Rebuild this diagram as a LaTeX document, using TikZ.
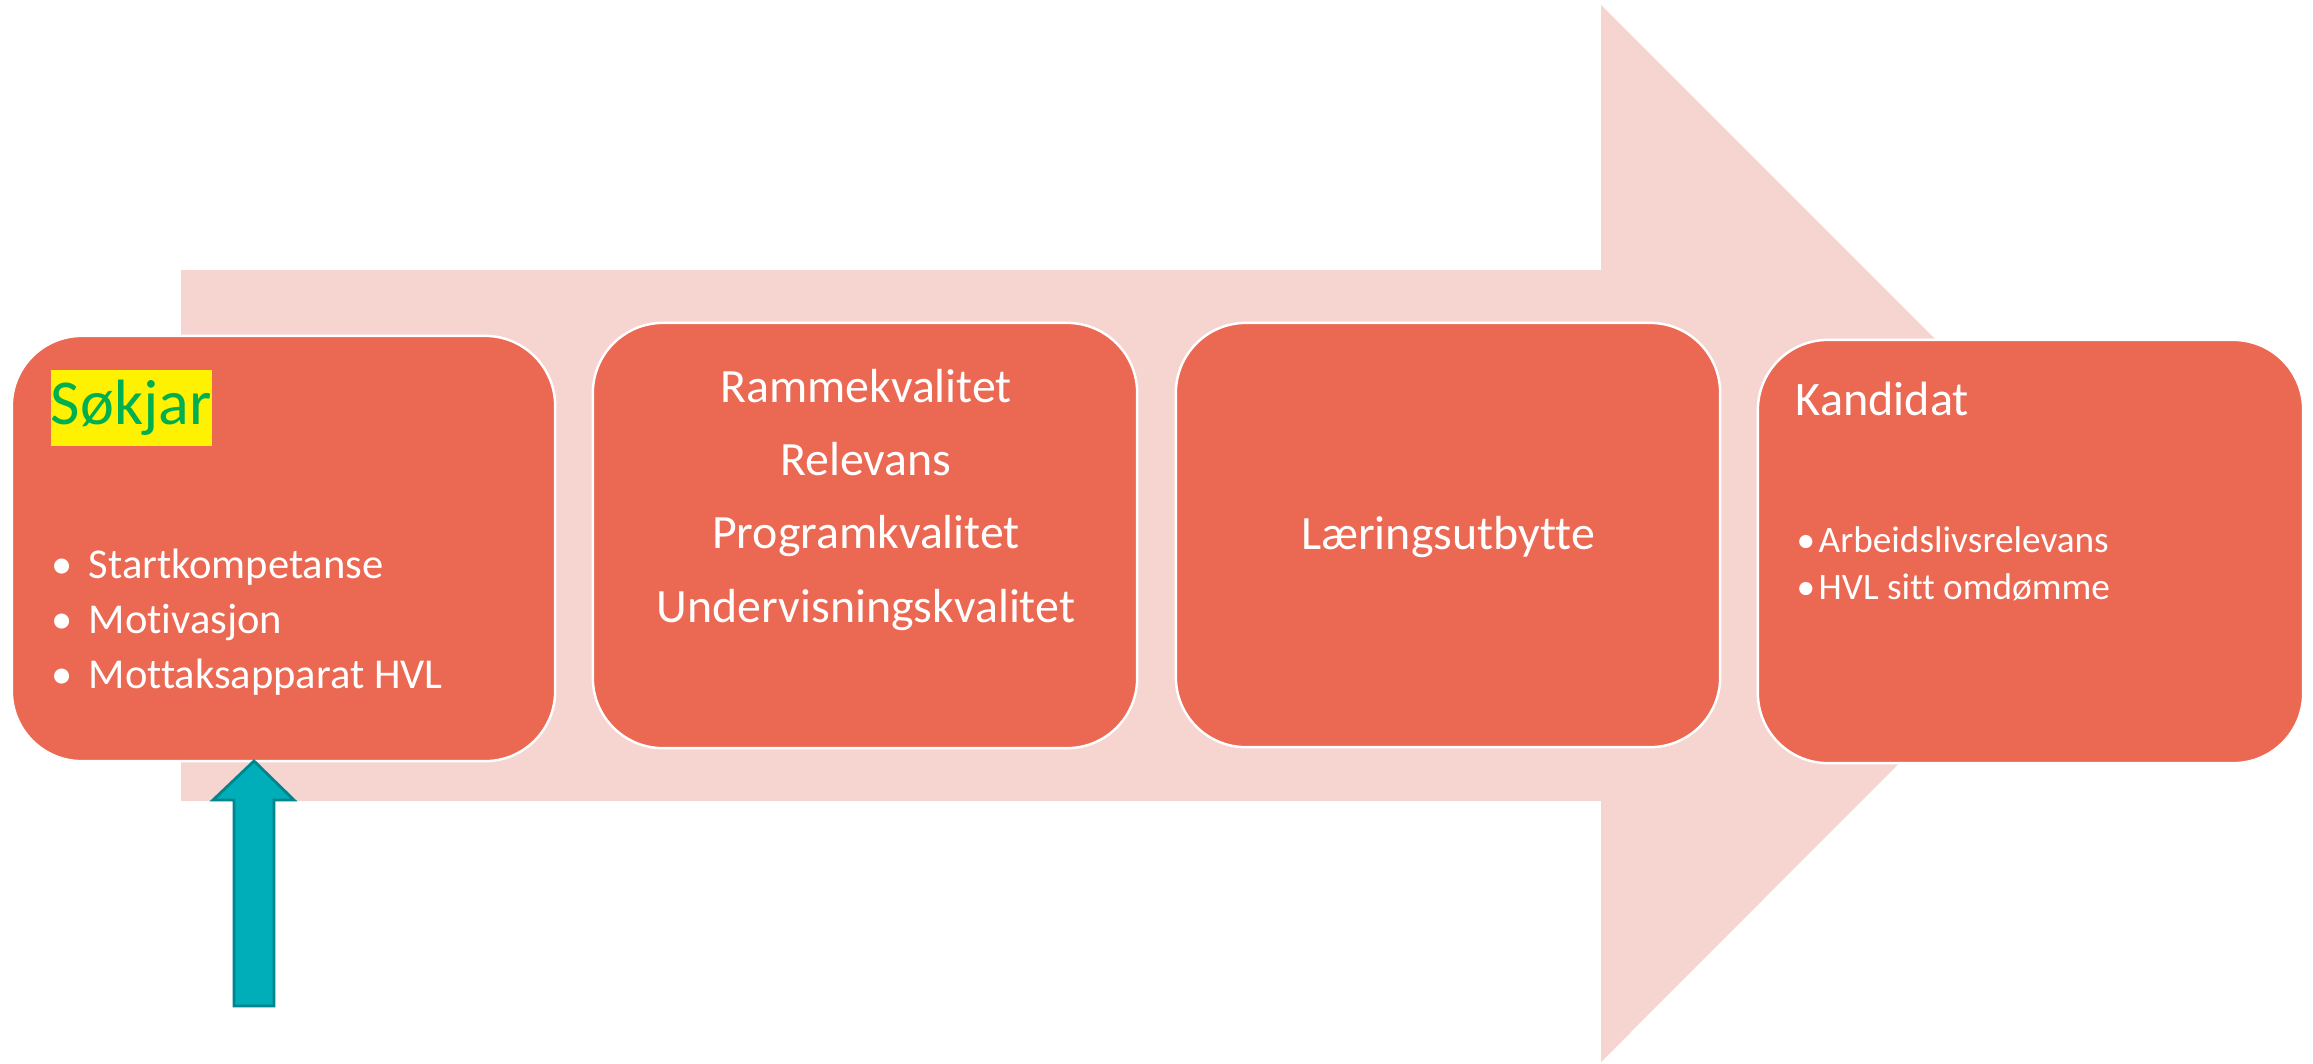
\documentclass[tikz,border=0pt]{standalone}
\usepackage{fontspec}
\setmainfont{Carlito}[Ligatures=NoCommon]
\definecolor{arrowpink}{HTML}{F6D4D0}
\definecolor{cardred}{HTML}{EB6853}
\definecolor{hvlgreen}{HTML}{00B050}
\definecolor{tealfill}{HTML}{00AEBA}
\definecolor{tealedge}{HTML}{00858F}
\newcommand{\itm}[1]{\makebox[#1][l]{•}}
\tikzset{
  card/.style={rectangle,rounded corners=0.7cm,fill=cardred,draw=white,line width=0.7pt,
    minimum width=5.44cm,minimum height=4.25cm},
  cardtext/.style={text=white,inner sep=0pt},
}
\begin{document}
\begin{tikzpicture}[x=0.01cm,y=-0.01cm]
\useasboundingbox (0,0) rectangle (2313,1063);
% big arrow behind the boxes
\fill[arrowpink] (181,270) -- (1601,270) -- (1601,5) -- (2129,533) -- (1601,1062) -- (1601,801) -- (181,801) -- cycle;
% the four boxes
\node (sokjarbox) at (283.5,548.5) [card,minimum width=5.43cm] {};
\node (kvalbox) at (865,535.5) [card] {};
\node (laerbox) at (1448,535) [card,minimum height=4.24cm] {};
\node (kandbox) at (2030.5,551.5) [card,minimum width=5.45cm,minimum height=4.23cm] {};
% box 1
\node (sokjar) at (50,369) [anchor=north west,fill=yellow,text=hvlgreen,inner sep=0pt,
  minimum width=1.61cm,minimum height=0.76cm,font=\fontsize{18.2}{22}\selectfont] {Søkjar};
\node (start) at (51,578) [cardtext,anchor=base west,font=\fontsize{12.1}{15}\selectfont] {\itm{0.37cm}Startkompetanse};
\node (motiv) at (51,633) [cardtext,anchor=base west,font=\fontsize{12.1}{15}\selectfont] {\itm{0.37cm}Motivasjon};
\node (mottak) at (51,688) [cardtext,anchor=base west,font=\fontsize{12.1}{15}\selectfont] {\itm{0.37cm}Mottaksapparat HVL};
% box 2
\node (ramme) at (866,402) [cardtext,anchor=base,font=\fontsize{13.6}{16}\selectfont] {Rammekvalitet};
\node (relev) at (866,475) [cardtext,anchor=base,font=\fontsize{13.6}{16}\selectfont] {Relevans};
\node (program) at (866,548) [cardtext,anchor=base,font=\fontsize{13.6}{16}\selectfont] {Programkvalitet};
\node (underv) at (866,622) [cardtext,anchor=base,font=\fontsize{13.6}{16}\selectfont] {Undervisningskvalitet};
% box 3
\node (laering) at (1448,549) [cardtext,anchor=base,font=\fontsize{13.6}{16}\selectfont] {Læringsutbytte};
% box 4
\node (kandidat) at (1795,415) [cardtext,anchor=base west,font=\fontsize{13.7}{17}\selectfont] {Kandidat};
\node (arbeid) at (1796,552) [cardtext,anchor=base west,font=\fontsize{10.6}{12}\selectfont] {\itm{0.22cm}Arbeidslivsrelevans};
\node (omdomme) at (1796,599) [cardtext,anchor=base west,font=\fontsize{10.6}{12}\selectfont] {\itm{0.22cm}HVL sitt omdømme};
% teal arrow up to the first box
\coordinate (tip) at (254,761);
\draw[tealedge,fill=tealfill,line width=0.8pt] (tip) -- ++(40,39) -- ++(-20,0) -- ++(0,206) -- ++(-40,0) -- ++(0,-206) -- ++(-21,0) -- cycle;
\end{tikzpicture}
\end{document}
